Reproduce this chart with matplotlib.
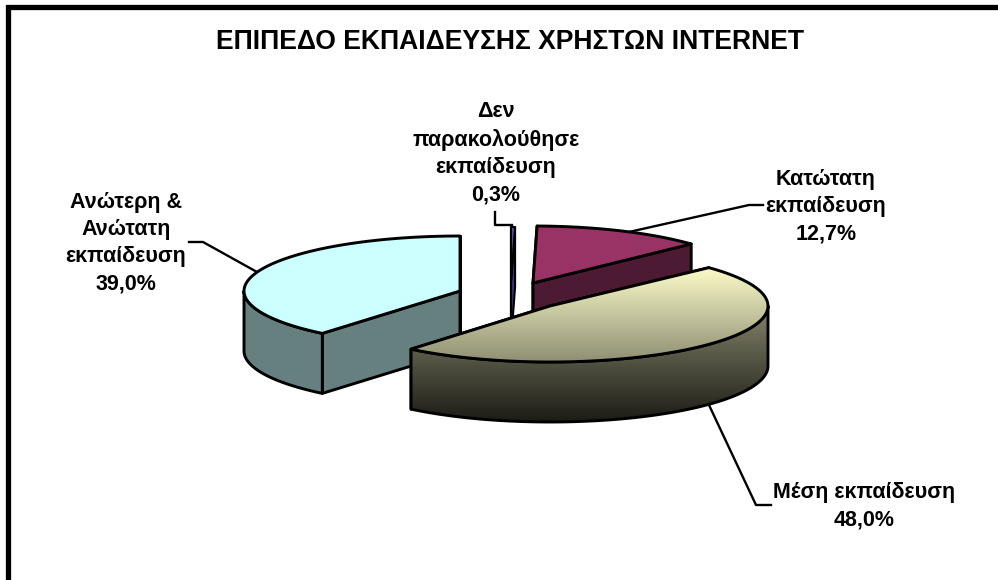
#!/usr/bin/env python3
import numpy as np
import matplotlib
matplotlib.use("Agg")
import matplotlib.pyplot as plt
from matplotlib.colors import LinearSegmentedColormap
from matplotlib.patches import Polygon

plt.rcParams['font.family'] = ['Liberation Sans', 'DejaVu Sans']

title = "ΕΠΙΠΕΔΟ ΕΚΠΑΙΔΕΥΣΗΣ ΧΡΗΣΤΩΝ INTERNET"

# clockwise from 12 o'clock
names = ["Δεν\nπαρακολούθησε\nεκπαίδευση", "Κατώτατη\nεκπαίδευση", "Μέση εκπαίδευση", "Ανώτερη &\nΑνώτατη\nεκπαίδευση"]
values = [0.3, 12.7, 48.0, 39.0]

top_colors = ["#5050B0", "#993366", None, "#CCFFFF"]
side_colors = ["#333380", "#4D1A33", None, "#668080"]

# pixel layout of the exploded pie
centers = [(511, 282), (533, 283), (550, 306), (460, 291)]
rad_x = [216, 217, 218, 216]
rad_y = [55, 57, 56, 55]
depth = 60
line_w = [1.5, 2.1, 2.1, 2.1]

label_pos = [(496, 153.5), (826, 206.5), (864, 506), (126, 243)]
leaders = [
    ([495, 495, 512], [212, 225, 225]),
    ([620, 749, 763], [234, 205, 205]),
    ([709, 756, 771], [405, 505, 505]),
    ([257, 203, 189], [272, 242, 242]),
]


def arc(i, a0, a1, n=80):
    t = np.radians(np.linspace(a0, a1, n))
    cx, cy = centers[i]
    return np.column_stack([cx + rad_x[i] * np.sin(t), cy - rad_y[i] * np.cos(t)])


def poly(ax, pts, color, lw):
    p = Polygon(pts, closed=True, fc=color if color else "none", ec="black", lw=lw, joinstyle="round")
    ax.add_patch(p)
    return p


def gradient(ax, patch, y0, y1, c0, c1):
    cm = LinearSegmentedColormap.from_list("g", [c0, c1])
    im = ax.imshow(np.linspace(0, 1, 256).reshape(-1, 1), cmap=cm, aspect="auto",
                   extent=(0, 998, y1, y0), zorder=patch.get_zorder() - 0.01)
    im.set_clip_path(patch)


fig = plt.figure(figsize=(9.98, 5.8), dpi=100)
ax = fig.add_axes([0, 0, 1, 1])

edges = np.cumsum([0] + values) / sum(values) * 360
z = 2
for i in [3, 0, 1, 2]:
    a0, a1 = edges[i], edges[i + 1]
    c = np.array(centers[i], dtype=float)
    top = arc(i, a0, a1)
    down = np.array([0, depth])

    # flat cut faces
    for edge in (top[0], top[-1]):
        p = poly(ax, [c, edge, edge + down, c + down], side_colors[i] if side_colors[i] else "#3a3a2e", line_w[i])
        p.set_zorder(z)
    z += 1

    # outer wall, front half only
    lo, hi = max(a0, 90), min(a1, 270)
    if hi > lo:
        wall = arc(i, lo, hi)
        pts = np.vstack([wall, wall[::-1] + down])
        if i == 2:
            p = poly(ax, pts, None, line_w[i])
            p.set_zorder(z)
            gradient(ax, p, 300, 426, "#8A8A70", "#181813")
        else:
            p = poly(ax, pts, side_colors[i], line_w[i])
            p.set_zorder(z)
        z += 1

    p = poly(ax, np.vstack([c, top]), top_colors[i] if top_colors[i] else None, line_w[i])
    p.set_zorder(z)
    if i == 2:
        gradient(ax, p, 264, 366, "#FFFFCC", "#8A8A70")
    z += 1

for xs, ys in leaders:
    ax.plot(xs, ys, color="black", lw=1.7, zorder=1)

for name, val, (x, y) in zip(names, values, label_pos):
    txt = name + "\n" + f"{val:.1f}".replace(".", ",") + "%"
    ax.text(x, y, txt, ha="center", va="center", fontsize=15.5, fontweight="bold",
            linespacing=1.39, zorder=50)

ax.text(510, 42, title, ha="center", va="center", fontsize=19.1, fontweight="bold", zorder=50)

# chart frame, only top and left fall inside the picture
ax.plot([8.5, 8.5, 998], [580, 6.5, 6.5], color="black", lw=3.8, zorder=60, solid_joinstyle="miter")

ax.set_xlim(0, 998)
ax.set_ylim(580, 0)
ax.axis("off")
fig.savefig("out.png", dpi=100, facecolor="white")
